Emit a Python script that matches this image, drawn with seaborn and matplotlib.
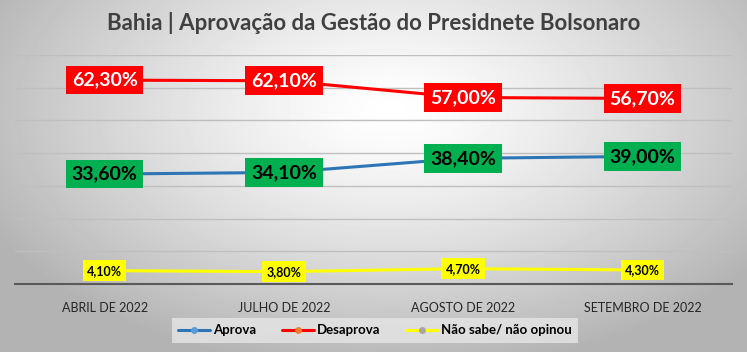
import numpy as np
import pandas as pd
import matplotlib
matplotlib.use('Agg')
import matplotlib.pyplot as plt
from matplotlib.lines import Line2D
import seaborn as sns

meses = ['ABRIL DE 2022', 'JULHO DE 2022', 'AGOSTO DE 2022', 'SETEMBRO DE 2022']
aprova = [33.6, 34.1, 38.4, 39.0]
desaprova = [62.3, 62.1, 57.0, 56.7]
nao_sabe = [4.1, 3.8, 4.7, 4.3]
series = ['Aprova', 'Desaprova', 'Não sabe/ não opinou']

cores = {'Aprova': '#2E75B6', 'Desaprova': '#FF0000', 'Não sabe/ não opinou': '#FFFF00'}
cores_marker = {'Aprova': '#5B9BD5', 'Desaprova': '#ED7D31', 'Não sabe/ não opinou': '#A5A5A5'}
# caixa, texto, tamanho da fonte, pad
estilo_label = {'Aprova': ('#00B050', 'black', 14, 0.3),
                'Desaprova': ('#FF0000', 'white', 14, 0.3),
                'Não sabe/ não opinou': ('#FFFF00', 'black', 9, 0.35)}

df = pd.DataFrame({'mes': meses * 3,
                   'valor': aprova + desaprova + nao_sabe,
                   'serie': [s for s in series for _ in meses]})

sns.set_theme(style='white')
plt.rcParams['font.family'] = ['Lato', 'DejaVu Sans']

fig = plt.figure(figsize=(7.47, 3.52), dpi=100)

# fundo com degradê radial
bg = fig.add_axes([0, 0, 1, 1], zorder=-10)
yy, xx = np.mgrid[0:352, 0:747]
r = np.sqrt(((xx - 390) / 500.0) ** 2 + ((yy - 110) / 290.0) ** 2)
grad = np.clip(1.0 - 0.34 * r ** 1.3, 0.70, 1.0)
bg.imshow(grad, cmap='gray', vmin=0, vmax=1, aspect='auto', extent=[0, 1, 0, 1])
bg.axis('off')

ax = fig.add_axes([0.02, 0.193, 0.96, 0.651])
ax.patch.set_alpha(0)

sns.lineplot(data=df, x='mes', y='valor', hue='serie', palette=cores, sort=False,
             linewidth=2.2, marker='o', markersize=5, markeredgewidth=0,
             legend=False, ax=ax)
for line, s in zip(ax.get_lines(), series):
    line.set_markerfacecolor(cores_marker[s])

for s, vals in zip(series, [aprova, desaprova, nao_sabe]):
    fc, tc, fs, pad = estilo_label[s]
    for i, v in enumerate(vals):
        ax.text(i, v, f'{v:.2f}%'.replace('.', ','), ha='center', va='center',
                fontsize=fs, fontweight='bold', color=tc, zorder=5,
                bbox=dict(boxstyle=f'square,pad={pad}', fc=fc, ec='none'))

ax.set_xlim(-0.5, 3.5)
ax.set_ylim(0, 70)
ax.set_yticks(np.arange(0, 71, 10))
ax.yaxis.grid(True, color='#BFBFBF', linewidth=1)
ax.set_axisbelow(True)
ax.tick_params(axis='y', left=False, labelleft=False)
ax.tick_params(axis='x', bottom=False, labelsize=9, labelcolor='#262626', pad=7)
ax.set_xlabel('')
ax.set_ylabel('')
for side in ['top', 'right', 'left']:
    ax.spines[side].set_visible(False)
ax.spines['bottom'].set_color('#595959')
ax.spines['bottom'].set_linewidth(1.5)

fig.text(0.5, 0.935, 'Bahia | Aprovação da Gestão do Presidnete Bolsonaro',
         ha='center', va='center', fontsize=16, fontweight='bold', color='#404040')

handles = [Line2D([], [], color=cores[s], lw=2.2, marker='o', markersize=5,
                  markerfacecolor=cores_marker[s], markeredgewidth=0) for s in series]
leg = fig.legend(handles, series, loc='center', bbox_to_anchor=(0.502, 0.062), ncol=3,
                 frameon=True, fontsize=9.5, handlelength=2.4, handletextpad=0.2,
                 columnspacing=2.0, borderpad=0.5, fancybox=False)
leg.get_frame().set_facecolor('#E6E6E6')
leg.get_frame().set_edgecolor('none')
for t in leg.get_texts():
    t.set_fontweight('bold')
    t.set_color('black')

fig.savefig('out.png', dpi=100)
